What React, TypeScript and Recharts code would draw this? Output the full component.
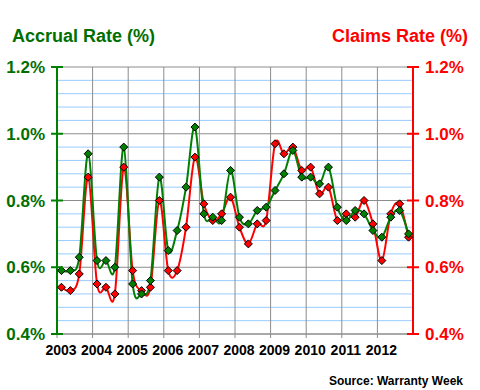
import { CartesianGrid, Line, LineChart, XAxis, YAxis } from 'recharts';

const years = ['2003', '2004', '2005', '2006', '2007', '2008', '2009', '2010', '2011', '2012'];

// quarterly values, 2003 Q1 .. 2012 Q4
const accrualRate = [
  0.59, 0.59, 0.63, 0.94, 0.62, 0.62, 0.6, 0.96, 0.55, 0.52,
  0.56, 0.87, 0.65, 0.71, 0.84, 1.02, 0.76, 0.75, 0.74, 0.89,
  0.75, 0.73, 0.77, 0.78, 0.83, 0.88, 0.95, 0.87, 0.87, 0.85,
  0.9, 0.78, 0.74, 0.77, 0.76, 0.71, 0.69, 0.75, 0.77, 0.7,
];
const claimsRate = [
  0.54, 0.53, 0.58, 0.87, 0.55, 0.54, 0.52, 0.9, 0.59, 0.53,
  0.54, 0.8, 0.59, 0.59, 0.72, 0.93, 0.79, 0.74, 0.76, 0.81,
  0.72, 0.67, 0.73, 0.74, 0.97, 0.94, 0.96, 0.89, 0.9, 0.82,
  0.84, 0.74, 0.76, 0.75, 0.8, 0.73, 0.62, 0.76, 0.79, 0.69,
];

const rateTicks = [0.4, 0.6, 0.8, 1.0, 1.2];
const minorTicks = [
  0.44, 0.48, 0.52, 0.56, 0.64, 0.68, 0.72, 0.76,
  0.84, 0.88, 0.92, 0.96, 1.04, 1.08, 1.12, 1.16,
];
const yearTicks = years.map((_, i) => i * 4);

const data = accrualRate.map((v, i) => ({
  quarter: i + 0.5,
  accrual: v,
  claims: claimsRate[i],
}));

const GREEN = '#008000';
const GREEN_TEXT = '#006f00';
const RED = '#ff0000';
const FONT = '"Liberation Sans", Arial, sans-serif';

// Excel-like smoothed line (Catmull-Rom as cubic beziers)
function smoothCurve(context: any) {
  let pts: number[][] = [];
  return {
    areaStart() {},
    areaEnd() {},
    lineStart() {
      pts = [];
    },
    lineEnd() {
      const n = pts.length;
      if (!n) return;
      context.moveTo(pts[0][0], pts[0][1]);
      for (let i = 0; i < n - 1; i++) {
        const p0 = pts[Math.max(i - 1, 0)];
        const p1 = pts[i];
        const p2 = pts[i + 1];
        const p3 = pts[Math.min(i + 2, n - 1)];
        context.bezierCurveTo(
          p1[0] + (p2[0] - p0[0]) / 6,
          p1[1] + (p2[1] - p0[1]) / 6,
          p2[0] - (p3[0] - p1[0]) / 6,
          p2[1] - (p3[1] - p1[1]) / 6,
          p2[0],
          p2[1],
        );
      }
    },
    point(x: number, y: number) {
      pts.push([+x, +y]);
    },
  };
}

const Diamond = (fill: string) => (props: any) => {
  const { cx, cy, index } = props;
  if (cx == null || cy == null) return <g key={index} />;
  const r = 4;
  return (
    <polygon
      key={index}
      points={`${cx},${cy - r} ${cx + r},${cy} ${cx},${cy + r} ${cx - r},${cy}`}
      fill={fill}
      stroke='#000'
      strokeWidth={1}
    />
  );
};

const pct = (v: number) => `${v.toFixed(1)}%`;

const LeftTick = (props: any) => {
  const { x, y, payload } = props;
  return (
    <g>
      <line x1={x + 6} x2={x + 18} y1={y} y2={y} stroke={GREEN} strokeWidth={2} />
      <text x={x} y={y} dy={6} textAnchor='end' fill={GREEN_TEXT} fontSize={17} fontWeight='bold' fontFamily={FONT}>
        {pct(payload.value)}
      </text>
    </g>
  );
};

const RightTick = (props: any) => {
  const { x, y, payload } = props;
  return (
    <g>
      <line x1={x - 18} x2={x - 6} y1={y} y2={y} stroke={RED} strokeWidth={2} />
      <text x={x} y={y} dy={6} textAnchor='start' fill={RED} fontSize={17} fontWeight='bold' fontFamily={FONT}>
        {pct(payload.value)}
      </text>
    </g>
  );
};

const YearTick = (props: any) => {
  const { x, y, payload } = props;
  return (
    <text x={x + 4} y={y + 15} textAnchor='middle' fill='#000' fontSize={14} fontWeight='bold' fontFamily={FONT}>
      {years[Math.round(payload.value / 4)]}
    </text>
  );
};

export default function App() {
  return (
    <div style={{ position: 'absolute', left: 0, top: 0, width: 480, height: 390, background: '#fff' }}>
      <LineChart
        width={480}
        height={390}
        data={data}
        margin={{ top: 67, right: 7, bottom: 26, left: 7 }}
      >
        <CartesianGrid
          yAxisId='left'
          vertical={false}
          horizontalValues={minorTicks}
          stroke='#99ccff'
          strokeWidth={1}
        />
        <CartesianGrid
          yAxisId='left'
          horizontalValues={rateTicks}
          verticalValues={yearTicks.slice(1)}
          stroke='#8c8c8c'
          strokeWidth={1}
        />
        <XAxis
          type='number'
          dataKey='quarter'
          domain={[0, 40]}
          ticks={yearTicks}
          interval={0}
          height={30}
          axisLine={{ stroke: '#8c8c8c' }}
          tickLine={{ stroke: '#8c8c8c' }}
          tickSize={4}
          tickMargin={2}
          tick={<YearTick />}
        />
        <YAxis
          yAxisId='left'
          orientation='left'
          width={50}
          domain={[0.4, 1.2]}
          ticks={rateTicks}
          interval={0}
          axisLine={{ stroke: GREEN, strokeWidth: 2 }}
          tickLine={false}
          tickSize={6}
          tickMargin={6}
          tick={<LeftTick />}
        />
        <YAxis
          yAxisId='right'
          orientation='right'
          width={60}
          domain={[0.4, 1.2]}
          ticks={rateTicks}
          interval={0}
          axisLine={{ stroke: RED, strokeWidth: 2 }}
          tickLine={false}
          tickSize={6}
          tickMargin={6}
          tick={<RightTick />}
        />
        <Line
          yAxisId='right'
          dataKey='claims'
          type={smoothCurve as any}
          stroke={RED}
          strokeWidth={2}
          dot={Diamond(RED)}
          activeDot={false}
          isAnimationActive={false}
        />
        <Line
          yAxisId='left'
          dataKey='accrual'
          type={smoothCurve as any}
          stroke={GREEN}
          strokeWidth={2}
          dot={Diamond(GREEN)}
          activeDot={false}
          isAnimationActive={false}
        />
      </LineChart>
      <svg width={480} height={390} style={{ position: 'absolute', left: 0, top: 0, pointerEvents: 'none' }}>
        <text x={12} y={42} fill={GREEN_TEXT} fontSize={18} fontWeight='bold' fontFamily={FONT}>
          Accrual Rate (%)
        </text>
        <text x={468} y={42} textAnchor='end' fill={RED} fontSize={18} fontWeight='bold' fontFamily={FONT}>
          Claims Rate (%)
        </text>
        <text x={463} y={385} textAnchor='end' fill='#000' fontSize={12} fontWeight='bold' fontFamily={FONT}>
          Source: Warranty Week
        </text>
      </svg>
    </div>
  );
}
